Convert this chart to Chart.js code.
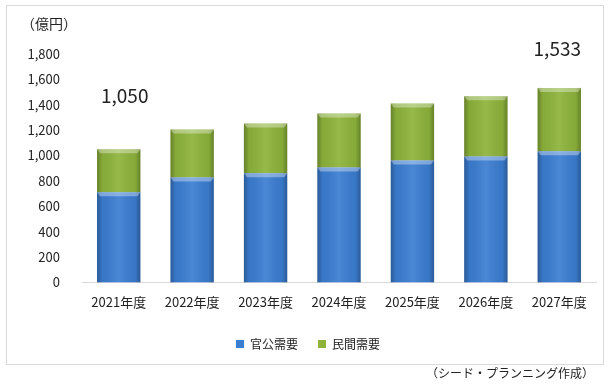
<!DOCTYPE html>
<html><head><meta charset="utf-8">
<script src="https://cdn.jsdelivr.net/npm/chart.js@4/dist/chart.umd.min.js"></script>
<style>html,body{margin:0;padding:0;background:#fff}#wrap{width:612px;height:388px}</style>
</head><body><div id="wrap"><canvas id="c" width="612" height="388"></canvas></div>
<script>
const categories = ['2021年度','2022年度','2023年度','2024年度','2025年度','2026年度','2027年度'];
const publicDemand = [710, 827, 860, 906, 960, 992, 1033];
const privateDemand = [340, 378, 393, 426, 449, 475, 500];
const yTicks = [0,200,400,600,800,1000,1200,1400,1600,1800];
const annotatedTotals = [{index:0, label:'1,050'}, {index:6, label:'1,533'}];
const unitLabel = '（億円）';
const sourceLabel = '（シード・プランニング作成）';

const FONT = "'Noto Sans CJK JP', 'Noto Sans', sans-serif";

const decor = {
  id: 'decor',
  beforeDraw(chart){
    const ctx = chart.ctx;
    ctx.save();
    ctx.fillStyle = '#fff';
    ctx.fillRect(0,0,chart.width,chart.height);
    ctx.strokeStyle = '#d9d9d9';
    ctx.lineWidth = 1;
    ctx.strokeRect(6.5,5.5,597,359);
    ctx.restore();
  },
  afterDatasetsDraw(chart){
    const ctx = chart.ctx;
    ctx.save();
    chart.data.datasets.forEach((ds, di) => {
      const meta = chart.getDatasetMeta(di);
      meta.data.forEach(el => {
        const p = el.getProps(['x','y','base','width'], true);
        const l = p.x - p.width/2, r = p.x + p.width/2;
        const top = Math.min(p.y, p.base), bot = Math.max(p.y, p.base);
        const g = ctx.createLinearGradient(l,0,r,0);
        g.addColorStop(0,'rgba(0,0,0,0.28)');
        g.addColorStop(0.12,'rgba(0,0,0,0.05)');
        g.addColorStop(0.5,'rgba(255,255,255,0.08)');
        g.addColorStop(0.88,'rgba(0,0,0,0.05)');
        g.addColorStop(1,'rgba(0,0,0,0.28)');
        ctx.fillStyle = g;
        ctx.fillRect(l, top, p.width, bot-top);
        ctx.fillStyle = 'rgba(255,255,255,0.35)';
        ctx.beginPath();
        ctx.moveTo(l, top); ctx.lineTo(r, top); ctx.lineTo(r-3, top+4); ctx.lineTo(l+3, top+4); ctx.closePath();
        ctx.fill();
      });
    });
    // total annotations
    const ys = chart.scales.y, xs = chart.scales.x;
    ctx.fillStyle = '#222';
    ctx.font = '19px ' + FONT;
    ctx.textAlign = 'center';
    ctx.textBaseline = 'alphabetic';
    annotatedTotals.forEach(a => {
      const tot = publicDemand[a.index] + privateDemand[a.index];
      const x = xs.getPixelForValue(a.index);
      const y = ys.getPixelForValue(tot);
      ctx.fillText(a.label, x + (a.index===0 ? 6 : -2), a.index===0 ? y - 46 : y - 32);
    });
    // unit label
    ctx.font = '14px ' + FONT;
    ctx.textAlign = 'left';
    ctx.textBaseline = 'middle';
    ctx.fillText(unitLabel, 21, 24);
    // source
    ctx.font = '12px ' + FONT;
    ctx.textAlign = 'right';
    ctx.fillText(sourceLabel, 594, 373);
    ctx.restore();
  }
};

new Chart(document.getElementById('c'), {
  type: 'bar',
  data: {
    labels: categories,
    datasets: [
      {label:'官公需要', data: publicDemand, backgroundColor:'#3b7dd1', borderWidth:0, barPercentage:0.59, categoryPercentage:1},
      {label:'民間需要', data: privateDemand, backgroundColor:'#8db33b', borderWidth:0, barPercentage:0.59, categoryPercentage:1}
    ]
  },
  options: {
    responsive:false, animation:false, devicePixelRatio:1,
    layout:{padding:{left:20, right:16, top:54, bottom:28}},
    plugins:{
      legend:{position:'bottom', labels:{boxWidth:8, boxHeight:8, padding:20, color:'#222', font:{family:FONT, size:12}, generateLabels(chart){
        const items = Chart.defaults.plugins.legend.labels.generateLabels(chart);
        items.forEach(i=>{i.strokeStyle='rgba(0,0,0,0)'; i.lineWidth=0;});
        return items;
      }}},
      tooltip:{enabled:false}
    },
    scales:{
      x:{stacked:true, grid:{display:false}, border:{color:'#d9d9d9'}, ticks:{color:'#222', font:{family:FONT, size:13}, padding:4},
         afterFit(s){ s.height = s.height + 4; }},
      y:{stacked:true, min:0, max:1800, grid:{display:false}, border:{display:false},
         afterBuildTicks(s){ s.ticks = yTicks.map(v=>({value:v})); },
         afterFit(s){ s.width = 62; },
         ticks:{color:'#222', font:{family:FONT, size:13}, padding:14, callback:v=>v.toLocaleString('en-US')}}
    }
  },
  plugins:[decor]
});
</script></body></html>
